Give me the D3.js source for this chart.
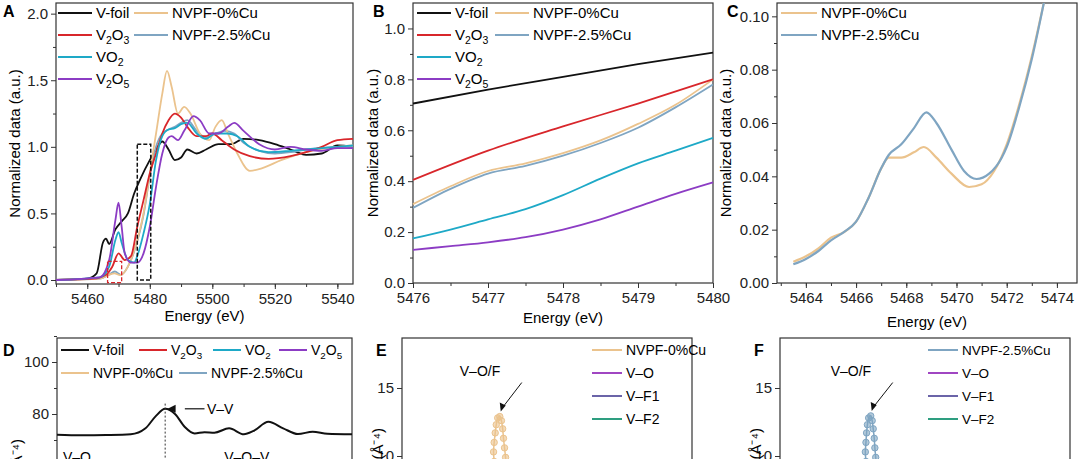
<!DOCTYPE html>
<html><head><meta charset="utf-8">
<script src="https://cdn.jsdelivr.net/npm/d3@7"></script>
<style>
body{margin:0;background:#fff;}
svg{font-family:"Liberation Sans",Arial,sans-serif;}
.ax text{font-size:15px;fill:#222;}
.ax path,.ax line{stroke:#333;}
</style></head>
<body><svg id="c" width="1080" height="459"></svg>
<script>
// ---- data: panel A (XANES, eV vs normalized) ----
const aFoil = [[5450,0],[5460,0.01],[5463,0.05],[5465,0.28],[5466,0.31],[5467,0.27],[5469,0.38],[5471,0.44],[5473,0.5],[5475,0.65],[5477,0.76],[5480,0.9],[5482,0.98],[5484,1.04],[5486,0.98],[5488,0.9],[5490,0.92],[5492,0.98],[5495,0.95],[5498,0.98],[5502,1.02],[5506,1.02],[5510,1.06],[5515,1.05],[5520,1.02],[5525,0.98],[5530,0.94],[5535,0.95],[5540,1.01],[5545,1.0]];
const aV2O3 = [[5450,0],[5462,0.01],[5466,0.04],[5468,0.1],[5470,0.2],[5472,0.15],[5474,0.18],[5476,0.4],[5478,0.6],[5480,0.8],[5482,0.95],[5484,1.1],[5486,1.2],[5488,1.25],[5490,1.22],[5492,1.15],[5495,1.08],[5498,1.08],[5500,1.1],[5503,1.05],[5507,0.98],[5512,0.93],[5518,0.91],[5525,0.93],[5530,0.96],[5535,1.0],[5540,1.05],[5545,1.06]];
const aVO2 = [[5450,0],[5464,0.02],[5467,0.1],[5469,0.3],[5470,0.36],[5471,0.28],[5473,0.15],[5475,0.13],[5476,0.18],[5478,0.35],[5480,0.57],[5482,0.9],[5484,1.08],[5486,1.13],[5488,1.14],[5490,1.17],[5492,1.18],[5495,1.1],[5498,1.06],[5501,1.1],[5505,1.1],[5508,1.08],[5512,1.0],[5518,0.96],[5525,0.97],[5530,0.98],[5540,1.0],[5545,1.01]];
const aV2O5 = [[5450,0],[5464,0.02],[5467,0.15],[5469,0.45],[5470,0.58],[5471,0.4],[5472,0.2],[5474,0.13],[5476,0.13],[5478,0.2],[5480,0.4],[5482,0.7],[5484,0.95],[5486,1.07],[5487,1.08],[5489,1.05],[5491,1.12],[5494,1.23],[5496,1.2],[5499,1.1],[5502,1.1],[5505,1.15],[5507,1.18],[5510,1.12],[5515,1.02],[5520,0.98],[5525,1.0],[5530,0.98],[5535,0.97],[5540,0.99],[5545,0.99]];
const aNV0 = [[5450,0],[5464,0.01],[5467,0.04],[5468.7,0.05],[5470.5,0.036],[5473,0.1],[5476,0.3],[5478,0.5],[5480,0.8],[5482,1.1],[5484,1.4],[5485.5,1.57],[5487,1.45],[5489,1.25],[5491,1.3],[5493,1.25],[5496,1.1],[5499,1.05],[5501,1.15],[5503,1.2],[5505,1.1],[5508,0.95],[5512,0.82],[5516,0.84],[5522,0.9],[5530,0.96],[5540,1.0],[5545,1.01]];
const aNV25 = [[5450,0],[5464,0.01],[5467,0.04],[5468.8,0.064],[5470.8,0.039],[5473,0.1],[5476,0.29],[5478,0.49],[5480,0.78],[5482,1.0],[5484,1.1],[5486,1.13],[5488,1.15],[5490,1.18],[5492,1.2],[5495,1.12],[5498,1.07],[5501,1.1],[5504,1.12],[5507,1.1],[5510,1.03],[5515,0.97],[5520,0.95],[5525,0.96],[5530,0.98],[5540,1.0],[5545,1.0]];
// ---- panel B (zoom of edge) ----
const bFoil = [[5476,0.705],[5477,0.76],[5478,0.81],[5479,0.86],[5480,0.905]];
const bV2O3 = [[5476,0.405],[5477,0.52],[5478,0.615],[5479,0.705],[5480,0.8]];
const bNV0 = [[5476,0.31],[5476.5,0.38],[5477,0.44],[5477.5,0.47],[5478,0.51],[5478.5,0.56],[5479,0.625],[5479.5,0.7],[5480,0.8]];
const bNV25 = [[5476,0.295],[5476.5,0.37],[5477,0.43],[5477.5,0.46],[5478,0.5],[5478.5,0.55],[5479,0.61],[5479.5,0.69],[5480,0.78]];
const bVO2 = [[5476,0.175],[5476.5,0.21],[5477,0.25],[5477.5,0.29],[5478,0.345],[5478.5,0.41],[5479,0.47],[5479.5,0.52],[5480,0.57]];
const bV2O5 = [[5476,0.13],[5476.5,0.145],[5477,0.16],[5477.5,0.18],[5478,0.21],[5478.5,0.25],[5479,0.3],[5479.5,0.35],[5480,0.395]];
// ---- panel C (pre-edge) ----
const cNV0 = [[5463.5,0.008],[5464,0.01],[5464.5,0.013],[5465,0.017],[5465.5,0.019],[5466,0.023],[5466.5,0.032],[5467,0.043],[5467.3,0.047],[5467.8,0.047],[5468.3,0.049],[5468.7,0.051],[5469.2,0.047],[5469.8,0.041],[5470.5,0.036],[5471,0.037],[5471.5,0.042],[5472,0.052],[5472.5,0.067],[5473,0.085],[5473.5,0.106]];
const cNV25 = [[5463.5,0.007],[5464,0.009],[5464.5,0.012],[5465,0.016],[5465.5,0.019],[5466,0.023],[5466.5,0.032],[5467,0.043],[5467.3,0.048],[5467.8,0.052],[5468.3,0.058],[5468.8,0.064],[5469.2,0.06],[5469.8,0.05],[5470.3,0.042],[5470.8,0.039],[5471.3,0.041],[5471.8,0.047],[5472,0.051],[5472.5,0.066],[5473,0.084],[5473.5,0.106]];
// ---- panel D (FT EXAFS, V-foil top part) ----
const dFoil = [[0,72],[0.5,71.8],[1,71.9],[1.5,72.2],[1.8,74.5],[2.0,79],[2.2,82],[2.4,80],[2.6,75],[2.8,72.5],[3.0,73],[3.2,72.8],[3.5,74.5],[3.8,72.2],[4.0,73.5],[4.3,77],[4.6,74.5],[4.9,72.3],[5.2,73.2],[5.5,72.4],[6,72.2]];
// ---- panels E/F (wavelet ridge loop, top part) ----
const eLoop = [[4.45,9.6],[4.42,10.3],[4.45,11.0],[4.5,11.7],[4.55,12.3],[4.62,12.8],[4.72,12.9],[4.8,12.6],[4.86,12.0],[4.9,11.3],[4.95,10.6],[5.0,9.9],[5.02,9.5]];
const fLoop = [[4.15,9.6],[4.12,10.3],[4.15,11.0],[4.18,11.7],[4.22,12.3],[4.28,12.8],[4.38,12.95],[4.45,12.6],[4.5,12.0],[4.55,11.3],[4.58,10.6],[4.62,9.9],[4.64,9.5]];

const C = {foil:"#111", v2o3:"#d8262b", vo2:"#1ea9c7", v2o5:"#8c3cc4", nv0:"#ebc38d", nv25:"#7fa5c2"};
const svg = d3.select("#c");

function axes(g, x, y, w, h, xt, yt, xfmt, yfmt, xminor, yminor, showX=true) {
  g.append("rect").attr("width", w).attr("height", h).attr("fill","none").attr("stroke","#333").attr("stroke-width",1.2);
  if (showX) {
    g.append("g").attr("class","ax").attr("transform",`translate(0,${h})`)
      .call(d3.axisBottom(x).tickValues(xt).tickFormat(xfmt).tickSize(5).tickPadding(4)).select(".domain").remove();
    g.append("g").attr("class","ax").attr("transform",`translate(0,${h})`)
      .call(d3.axisBottom(x).tickValues(xminor).tickFormat("").tickSize(3)).select(".domain").remove();
  }
  g.append("g").attr("class","ax").call(d3.axisLeft(y).tickValues(yt).tickFormat(yfmt).tickSize(5).tickPadding(3)).select(".domain").remove();
  if (yminor) g.append("g").attr("class","ax").call(d3.axisLeft(y).tickValues(yminor).tickFormat("").tickSize(3)).select(".domain").remove();
}
function line(g, x, y, data, color, w=1.8) {
  g.append("path").datum(data).attr("fill","none").attr("stroke",color).attr("stroke-width",w)
    .attr("d", d3.line().x(d=>x(d[0])).y(d=>y(d[1])).curve(d3.curveMonotoneX));
}
function label(text, x, y) {
  svg.append("text").attr("x",x).attr("y",y).attr("font-weight","bold").attr("font-size",16).text(text);
}
function legItem(g, x, y, color, parts, len=34, fs=15) {
  g.append("line").attr("x1",x).attr("x2",x+len).attr("y1",y).attr("y2",y).attr("stroke",color).attr("stroke-width",2);
  const t = g.append("text").attr("x",x+len+4).attr("y",y+5).attr("font-size",fs);
  parts.forEach(p => { const s = t.append("tspan").text(p[0]); if (p[1]) s.attr("font-size",fs*0.7).attr("dy",4); else s.attr("dy",0); if (!p[1] && t.selectAll("tspan").size()>1) s.attr("dy",-4); });
}
function yLabel(text, x, cy) {
  svg.append("text").attr("transform",`translate(${x},${cy}) rotate(-90)`).attr("text-anchor","middle").attr("font-size",15).text(text);
}
function xLabel(text, cx, y) {
  svg.append("text").attr("x",cx).attr("y",y).attr("text-anchor","middle").attr("font-size",15).text(text);
}
const V2O3 = [["V"],["2",1],["O"],["3",1]], V2O5 = [["V"],["2",1],["O"],["5",1]], VO2 = [["VO"],["2",1]];

// ---- Panel A ----
{
  const L=56,T=3,W=297,H=281;
  const x=d3.scaleLinear().domain([5450,5545]).range([0,W]);
  const y=d3.scaleLinear().domain([-0.03,2.08]).range([H,0]);
  const g=svg.append("g").attr("transform",`translate(${L},${T})`);
  axes(g,x,y,W,H,[5460,5480,5500,5520,5540],[0,0.5,1,1.5,2],d3.format("d"),d3.format(".1f"),d3.range(5450,5546,10),[0.25,0.75,1.25,1.75]);
  [[aFoil,C.foil],[aNV25,C.nv25],[aNV0,C.nv0],[aV2O3,C.v2o3],[aVO2,C.vo2],[aV2O5,C.v2o5]].forEach(s=>line(g,x,y,s[0],s[1]));
  g.append("rect").attr("x",x(5466.5)).attr("y",y(0.14)).attr("width",x(5471)-x(5466.5)).attr("height",y(-0.02)-y(0.14)).attr("fill","none").attr("stroke","#d8262b").attr("stroke-dasharray","4,2").attr("stroke-width",1.3);
  g.append("rect").attr("x",x(5476)).attr("y",y(1.02)).attr("width",x(5480.3)-x(5476)).attr("height",y(0)-y(1.02)).attr("fill","none").attr("stroke","#111").attr("stroke-dasharray","4,2").attr("stroke-width",1.5);
  legItem(g,2,10,C.foil,[["V-foil"]]); legItem(g,2,32,C.v2o3,V2O3); legItem(g,2,54,C.vo2,VO2); legItem(g,2,76,C.v2o5,V2O5);
  legItem(g,78,10,C.nv0,[["NVPF-0%Cu"]]); legItem(g,78,32,C.nv25,[["NVPF-2.5%Cu"]]);
  label("A",3,17); yLabel("Normalized data (a.u.)",20,T+H/2);
  xLabel("Energy (eV)",L+W/2,321);
}
// ---- Panel B ----
{
  const L=413,T=3,W=300,H=280;
  const x=d3.scaleLinear().domain([5476,5480]).range([0,W]);
  const y=d3.scaleLinear().domain([0,1.1]).range([H,0]);
  const g=svg.append("g").attr("transform",`translate(${L},${T})`);
  axes(g,x,y,W,H,[5476,5477,5478,5479,5480],[0,0.2,0.4,0.6,0.8,1.0],d3.format("d"),d3.format(".1f"),d3.range(5476,5480.1,0.5),[0.1,0.3,0.5,0.7,0.9]);
  [[bFoil,C.foil],[bNV0,C.nv0],[bNV25,C.nv25],[bV2O3,C.v2o3],[bVO2,C.vo2],[bV2O5,C.v2o5]].forEach(s=>line(g,x,y,s[0],s[1]));
  legItem(g,4,10,C.foil,[["V-foil"]]); legItem(g,4,32,C.v2o3,V2O3); legItem(g,4,54,C.vo2,VO2); legItem(g,4,76,C.v2o5,V2O5);
  legItem(g,82,10,C.nv0,[["NVPF-0%Cu"]]); legItem(g,82,32,C.nv25,[["NVPF-2.5%Cu"]]);
  label("B",373,17); yLabel("Normalized data (a.u.)",378,T+H/2);
  xLabel("Energy (eV)",L+W/2,323);
}
// ---- Panel C ----
{
  const L=777,T=3,W=300,H=280;
  const x=d3.scaleLinear().domain([5462.85,5474.8]).range([0,W]);
  const y=d3.scaleLinear().domain([0,0.105]).range([H,0]);
  const g=svg.append("g").attr("transform",`translate(${L},${T})`);
  g.append("clipPath").attr("id","cc").append("rect").attr("width",W).attr("height",H);
  axes(g,x,y,W,H,[5464,5466,5468,5470,5472,5474],[0,0.02,0.04,0.06,0.08,0.10],d3.format("d"),d3.format(".2f"),d3.range(5463,5475,1),[0.01,0.03,0.05,0.07,0.09]);
  const gc=g.append("g").attr("clip-path","url(#cc)");
  line(gc,x,y,cNV0,C.nv0,2.2); line(gc,x,y,cNV25,C.nv25,2.2);
  legItem(g,4,10,C.nv0,[["NVPF-0%Cu"]],36); legItem(g,4,32,C.nv25,[["NVPF-2.5%Cu"]],36);
  label("C",727,17); yLabel("Normalized data (a.u.)",731,T+H/2);
  xLabel("Energy (eV)",L+W/2,327);
}
// ---- Panel D ----
{
  const L=57,T=338,W=295,H=260;
  const x=d3.scaleLinear().domain([0,6]).range([0,W]);
  const y=d3.scaleLinear().domain([100,80]).range([362-T,414-T]);
  const g=svg.append("g").attr("transform",`translate(${L},${T})`);
  axes(g,x,y,W,H,[],[80,100],d3.format("d"),d3.format("d"),[],[70,90,110],false);
  line(g,x,y,dFoil,C.foil,2);
  g.append("line").attr("x1",x(2.2)).attr("x2",x(2.2)).attr("y1",y(84)).attr("y2",H).attr("stroke","#333").attr("stroke-dasharray","2,2");
  g.append("line").attr("x1",x(2.6)).attr("x2",x(3.0)).attr("y1",y(82)).attr("y2",y(82)).attr("stroke","#111").attr("stroke-width",1.2);
  g.append("path").attr("d",`M${x(2.25)},${y(82)} l8,-4 l0,8 z`).attr("fill","#111");
  g.append("text").attr("x",x(3.05)).attr("y",y(82)+5).attr("font-size",14).text("V–V");
  g.append("text").attr("x",6).attr("y",462-T).attr("font-size",14).text("V–O");
  g.append("text").attr("x",x(3.4)).attr("y",462-T).attr("font-size",14).text("V–O–V");
  const lg=g.append("g");
  legItem(lg,4,12,C.foil,[["V-foil"]],28,14); legItem(lg,82,12,C.v2o3,V2O3,28,14); legItem(lg,156,12,C.vo2,VO2,28,14); legItem(lg,222,12,C.v2o5,V2O5,28,14);
  legItem(lg,4,35,C.nv0,[["NVPF-0%Cu"]],28,14); legItem(lg,122,35,C.nv25,[["NVPF-2.5%Cu"]],28,14);
  label("D",3,356); yLabel("|χ(R)| (Å⁻⁴)",22,475);
}
// ---- Panels E, F ----
function wave(L, loop, col, name, lab, lx, fs) {
  const T=338,W=290,H=260;
  const x=d3.scaleLinear().domain([0,14]).range([0,W]);
  const y=d3.scaleLinear().domain([15,10]).range([388-T,456-T]);
  const g=svg.append("g").attr("transform",`translate(${L},${T})`);
  axes(g,x,y,W,H,[],[10,15],d3.format("d"),d3.format("d"),[],null,false);
  g.append("path").datum(loop).attr("fill","none").attr("stroke",col).attr("stroke-width",1.5)
    .attr("d",d3.line().x(d=>x(d[0])).y(d=>y(d[1])).curve(d3.curveCatmullRom));
  g.selectAll(".pt").data(loop).enter().append("circle").attr("cx",d=>x(d[0])).attr("cy",d=>y(d[1])).attr("r",3.2)
    .attr("fill",col).attr("fill-opacity",0.6).attr("stroke",col);
  const tip=loop[6];
  g.append("text").attr("x",x(tip[0])-40).attr("y",y(15.9)).attr("font-size",14).text("V–O/F");
  g.append("line").attr("x1",x(tip[0])+22).attr("y1",y(15.4)).attr("x2",x(tip[0])+2).attr("y2",y(tip[1])-8).attr("stroke","#111");
  g.append("path").attr("d",`M${x(tip[0])+1},${y(tip[1])-5} l-1,-9 l6,3 z`).attr("fill","#111");
  const lg=g.append("g");
  [[col,name],["#a046c2","V–O"],["#6b64a8","V–F1"],["#2e9e80","V–F2"]].forEach((d,i)=>legItem(lg,lx,12+i*23,d[0],[[d[1]]],30,fs));
  label(lab,L-26,356); yLabel("|χ(k,R)| (Å⁻⁴)",L-19,470);
}
wave(402, eLoop, C.nv0, "NVPF-0%Cu", "E", 190, 14);
wave(780, fLoop, C.nv25, "NVPF-2.5%Cu", "F", 148, 13.5);
</script></body></html>
